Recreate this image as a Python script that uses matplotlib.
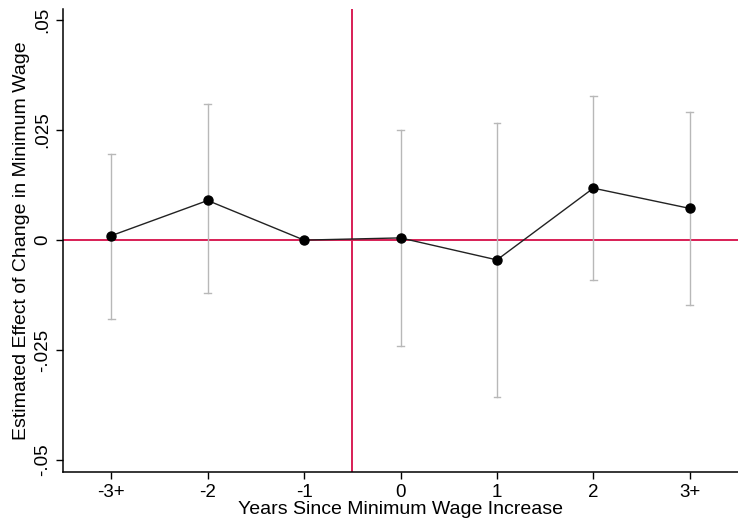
import numpy as np
import matplotlib.pyplot as plt

plt.rcParams['font.family'] = ['Liberation Sans', 'DejaVu Sans']

# event-study estimates with 95% confidence bounds
labels = ['-3+', '-2', '-1', '0', '1', '2', '3+']
years = [-3, -2, -1, 0, 1, 2, 3]
coef = [0.001, 0.009, 0.0, 0.0005, -0.0045, 0.0118, 0.0072]
ci_lo = [-0.018, -0.012, np.nan, -0.024, -0.0357, -0.009, -0.0148]
ci_hi = [0.0195, 0.031, np.nan, 0.025, 0.0265, 0.0327, 0.029]
yticks = [-0.05, -0.025, 0, 0.025, 0.05]
ytick_labels = ['-.05', '-.025', '0', '.025', '.05']

red = '#d81e55'
grey = '#b8b8b8'

fig = plt.figure(figsize=(7.38, 5.31), dpi=100)
ax = fig.add_axes([0.0854, 0.111, 0.9146, 0.872])

ax.axhline(0, color=red, lw=1.4, zorder=1)
ax.axvline(-0.5, color=red, lw=1.4, zorder=1)

for x, lo, hi in zip(years, ci_lo, ci_hi):
    if np.isnan(lo):
        continue
    ax.plot([x, x], [lo, hi], color=grey, lw=1.0, zorder=2)
    ax.plot([x - 0.035, x + 0.035], [lo, lo], color=grey, lw=1.0, zorder=2)
    ax.plot([x - 0.035, x + 0.035], [hi, hi], color=grey, lw=1.0, zorder=2)

ax.plot(years, coef, color='#222222', lw=1.0, marker='o', ms=6.5,
        mfc='black', mec='black', zorder=3)

ax.set_xlim(-3.5, 3.5)
ax.set_ylim(-0.0527, 0.0525)
ax.set_xticks(years)
ax.set_xticklabels(labels, fontsize=13.5)
ax.set_yticks(yticks)
ax.set_yticklabels(ytick_labels, fontsize=13.5, rotation=90, va='center')
ax.tick_params(direction='out', length=5, width=1, color='black')

for side in ['top', 'right']:
    ax.spines[side].set_visible(False)
for side in ['left', 'bottom']:
    ax.spines[side].set_linewidth(1.1)

ax.set_xlabel('Years Since Minimum Wage Increase', fontsize=14, labelpad=0)
ax.set_ylabel('Estimated Effect of Change in Minimum Wage', fontsize=14, labelpad=3)

fig.savefig('out.png', dpi=100)
